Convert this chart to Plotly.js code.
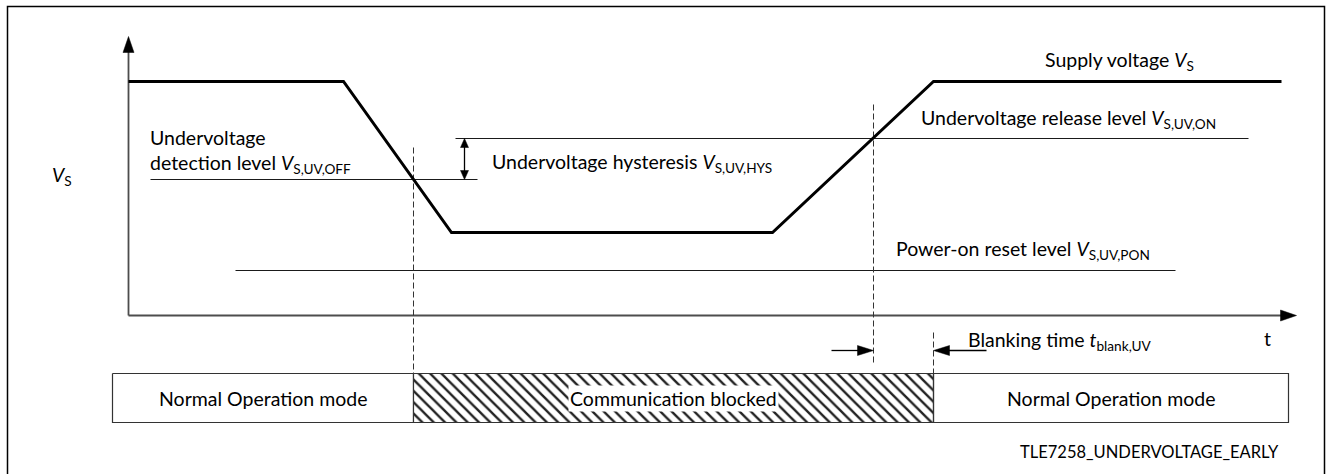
<!DOCTYPE html>
<html>
<head>
<meta charset="utf-8">
<script src="https://cdn.plot.ly/plotly-3.0.1.min.js"></script>
<style>html,body{margin:0;padding:0;background:#fff;}#chart{width:1332px;height:474px;}</style>
</head>
<body>
<div id="chart"></div>
<script>
// ---- data (time t and voltage V in diagram units, origin at the axes corner) ----
const supplyT = [0, 215, 323, 644, 805, 1153];
const supplyV = [234, 234, 83, 83, 234, 234];

const levelLabels = ['Undervoltage<br>detection level <i>V</i><sub>S,UV,OFF</sub>',
                     'Undervoltage release level <i>V</i><sub>S,UV,ON</sub>',
                     'Power-on reset level <i>V</i><sub>S,UV,PON</sub>'];
const levelV  = [136, 177, 45];
const levelT0 = [22, 327, 107];
const levelT1 = [349, 1120, 1047];
const levelLabelT = [19, 790, 765];
const levelLabelV = [164, 197, 66];

const eventT    = [285, 745, 805];
const eventVtop = [168, 211, -17];
const eventVbot = [-58, -50, -58];

const hystT = 336;
const hystLabel = 'Undervoltage hysteresis <i>V</i><sub>S,UV,HYS</sub>';

const blankV = -35;
const blankFromT = [703, 858];
const blankLabel = 'Blanking time <i>t</i><sub>blank,UV</sub>';

const modeLabels = ['Normal Operation mode', 'Communication blocked', 'Normal Operation mode'];
const modeStart  = [-16, 285, 805];
const modeEnd    = [285, 805, 1160];
const modeHatched = [false, true, false];
const modeTop = -58, modeBottom = -107;

const axisTipT = 1168, axisTipV = 279;
const supplyLabel = 'Supply voltage <i>V</i><sub>S</sub>';
const yLabel = '<i>V</i><sub>S</sub>';
const xLabel = 't';
const figId = 'TLE7258_UNDERVOLTAGE_EARLY';

// ---- drawing ----
const FONT = 'Lato, "Liberation Sans", Arial, sans-serif';
const traces = [];
function line(x, y, color, width, dash) {
  traces.push({type:'scatter', mode:'lines', x:x, y:y, hoverinfo:'skip', showlegend:false,
    line:{color:color, width:width, dash:dash||'solid', shape:'linear'}});
}
function head(tipT, tipV, dt, dv, len, hw, color) {
  const bt = tipT - dt*len, bv = tipV - dv*len;
  const pt = -dv, pv = dt;
  traces.push({type:'scatter', mode:'lines', fill:'toself', fillcolor:color, hoverinfo:'skip', showlegend:false,
    x:[tipT, bt + pt*hw, bt - pt*hw, tipT], y:[tipV, bv + pv*hw, bv - pv*hw, tipV],
    line:{color:color, width:0.5}});
}

// axes
line([0, 0], [0, axisTipV - 14], '#4d4d4d', 1.8);
line([0, axisTipT - 14], [0, 0], '#4d4d4d', 1.8);
head(0, axisTipV, 0, 1, 16, 5.5, '#000');
head(axisTipT, 0, 1, 0, 16, 5.5, '#000');

// level lines
for (let i = 0; i < levelV.length; i++) line([levelT0[i], levelT1[i]], [levelV[i], levelV[i]], '#1a1a1a', 1.1);

// event dashed lines
for (let i = 0; i < eventT.length; i++) line([eventT[i], eventT[i]], [eventVtop[i], eventVbot[i]], '#333', 1, '6px,3px');

// supply waveform
line(supplyT, supplyV, '#000', 3);

// hysteresis double arrow
line([hystT, hystT], [levelV[1] - 7, levelV[0] + 7], '#000', 1.3);
head(hystT, levelV[1], 0, 1, 9, 4, '#000');
head(hystT, levelV[0], 0, -1, 9, 4, '#000');

// blanking arrows
line([blankFromT[0], eventT[1] - 12], [blankV, blankV], '#000', 1.3);
head(eventT[1], blankV, 1, 0, 16, 5, '#000');
line([blankFromT[1], eventT[2] + 12], [blankV, blankV], '#000', 1.3);
head(eventT[2], blankV, -1, 0, 16, 5, '#000');

// mode boxes
for (let i = 0; i < modeLabels.length; i++) {
  const tr = {type:'scatter', mode:'lines', hoverinfo:'skip', showlegend:false,
    x:[modeStart[i], modeEnd[i], modeEnd[i], modeStart[i], modeStart[i]],
    y:[modeTop, modeTop, modeBottom, modeBottom, modeTop],
    line:{color:'#333', width:1.2}};
  if (modeHatched[i]) {
    tr.fill = 'toself';
    tr.fillcolor = 'white';
    tr.fillpattern = {shape:'\\', size:8, solidity:0.3, fgcolor:'#222', bgcolor:'white', fillmode:'replace'};
  }
  traces.push(tr);
}

// annotations
const ann = [];
function txt(t, x, y, xa, size, extra) {
  ann.push(Object.assign({text:t, x:x, y:y, xref:'x', yref:'y', showarrow:false, xanchor:xa, yanchor:'middle',
    align:'left', font:{family:FONT, size:size, color:'#000'}}, extra||{}));
}
txt(supplyLabel, 914, 255, 'left', 19.5);
for (let i = 0; i < levelLabels.length; i++) txt(levelLabels[i], levelLabelT[i], levelLabelV[i], 'left', 19.5);
txt(hystLabel, hystT + 25, 153, 'left', 19.5);
txt(yLabel, -79, 140, 'left', 19.5);
txt(xLabel, 1139, -23, 'center', 19.5);
txt(blankLabel, 837, -25, 'left', 19.5);
for (let i = 0; i < modeLabels.length; i++)
  txt(modeLabels[i], (modeStart[i] + modeEnd[i]) / 2, (modeTop + modeBottom) / 2, 'center', 19.5,
      modeHatched[i] ? {bgcolor:'white', borderpad:1} : {});
txt(figId, 1152, -136, 'right', 16.5);

const layout = {
  width:1332, height:474, margin:{l:0, r:0, t:0, b:0},
  paper_bgcolor:'white', plot_bgcolor:'white',
  xaxis:{range:[-128.5, 1203.5], visible:false, fixedrange:true},
  yaxis:{range:[-158.5, 315.5], visible:false, fixedrange:true},
  annotations: ann,
  shapes:[{type:'rect', xref:'x', yref:'y', x0:-121, x1:1196, y0:309, y1:-175, line:{color:'#000', width:1.5}, fillcolor:'rgba(0,0,0,0)'}]
};
Plotly.newPlot('chart', traces, layout, {displayModeBar:false});
</script>
</body>
</html>
